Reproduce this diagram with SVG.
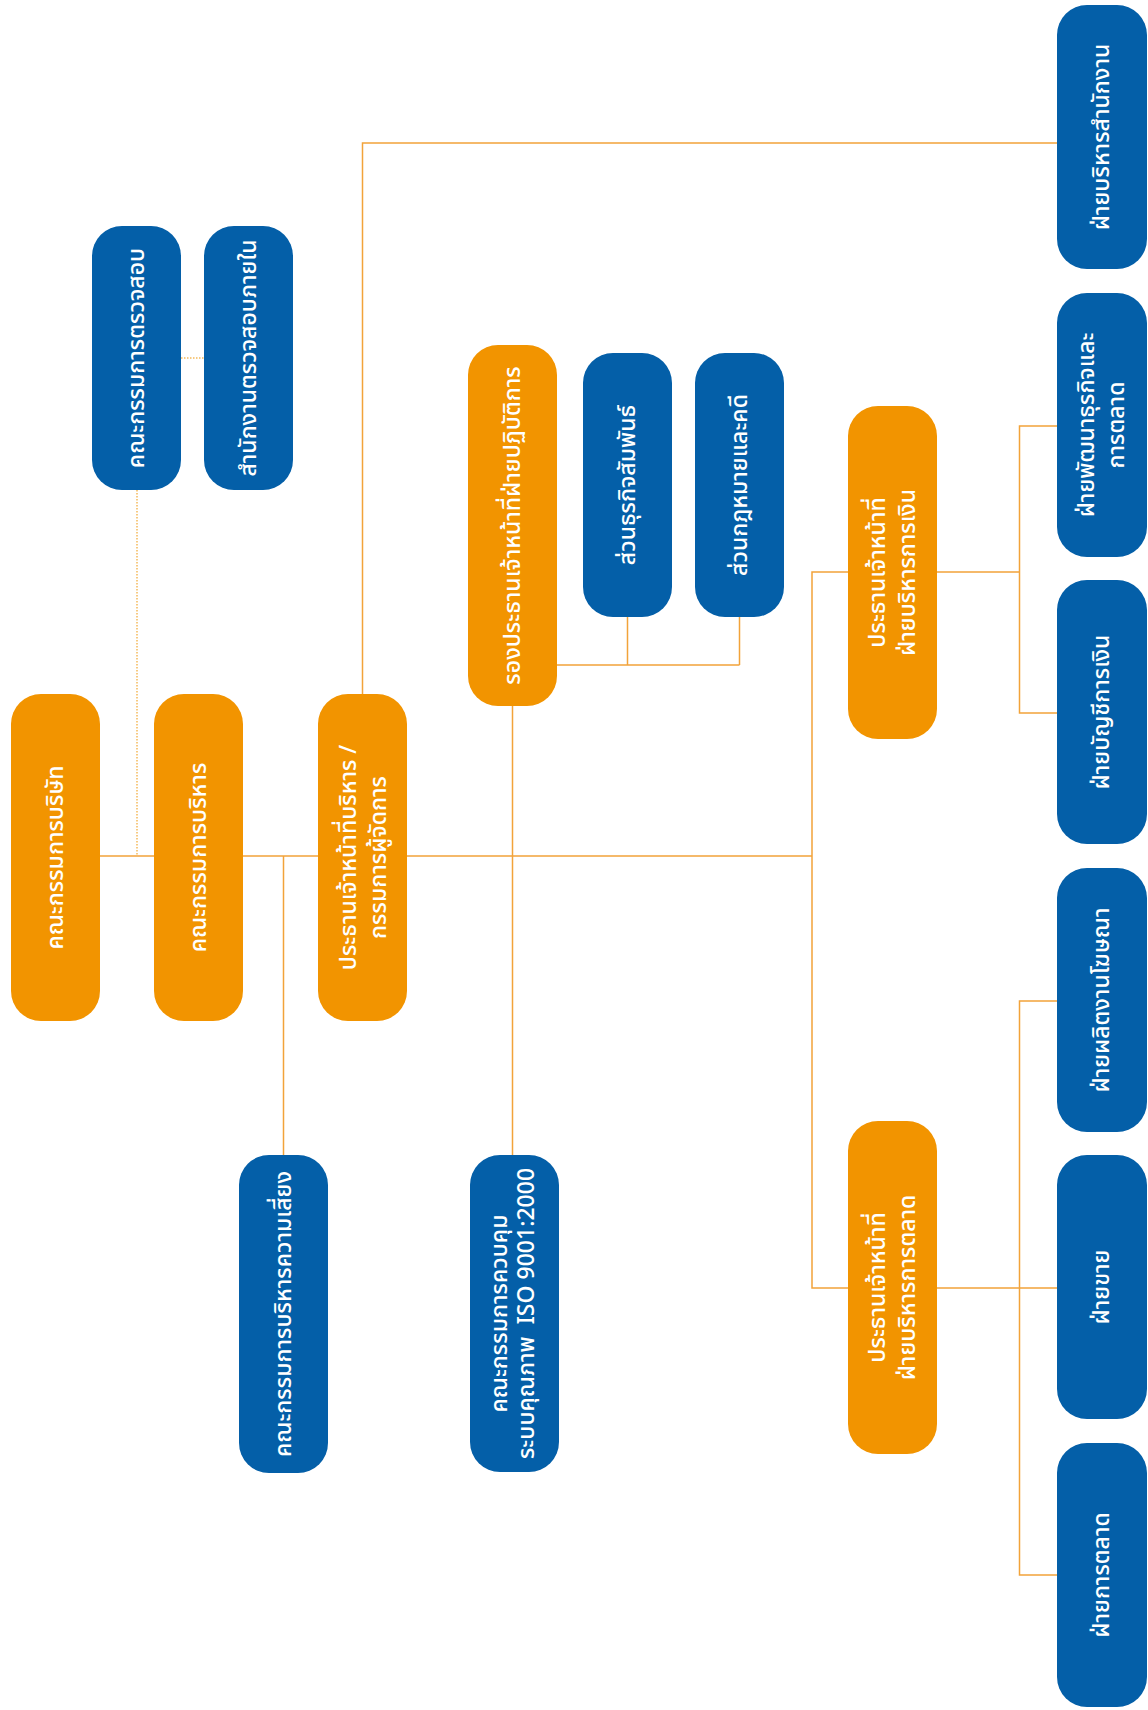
<svg xmlns="http://www.w3.org/2000/svg" width="1148" height="1710" viewBox="0 0 1148 1710">
<style>
.bg{fill:#ffffff}
.b{fill:#045FA8}
.o{fill:#F29400}
.t{fill:#ffffff;font-family:"Noto Sans Thai","Noto Sans","DejaVu Sans",sans-serif;font-size:23px;font-weight:500;text-anchor:middle}
.c{fill:none;stroke:#F2A33A;stroke-width:1.5}
.d{fill:none;stroke:#F5B95A;stroke-width:1.5;stroke-dasharray:1.5 1.5}
</style>
<rect class="bg" x="0" y="0" width="1148" height="1710"/>
<g id="connectors">
<path class="c" d="M362.5 694V143H1057"/>
<path class="c" d="M100 856H154M243 856H318M407 856H812"/>
<path class="c" d="M283.5 856V1155"/>
<path class="c" d="M512.5 706V1155"/>
<path class="c" d="M557 665H739.5M627.5 617V665M739.5 617V665"/>
<path class="c" d="M848 572H812V1288H848"/>
<path class="c" d="M937 572H1019.5M1057 426H1019.5V713H1057"/>
<path class="c" d="M937 1288H1057M1057 1001H1019.5V1575H1057"/>
<path class="d" d="M137 490V856"/>
<path class="d" d="M181 358H204"/>
</g>
<g id="n-board">
<rect class="o" x="11" y="694" width="89" height="327" rx="30"/>
<text class="t" transform="translate(55.5 857.5) rotate(-90)" y="7">คณะกรรมการบริษัท</text>
</g>
<g id="n-exec">
<rect class="o" x="154" y="694" width="89" height="327" rx="30"/>
<text class="t" transform="translate(198.5 857.5) rotate(-90)" y="7">คณะกรรมการบริหาร</text>
</g>
<g id="n-ceo">
<rect class="o" x="318" y="694" width="89" height="327" rx="30"/>
<text class="t" transform="translate(362.5 857.5) rotate(-90)"><tspan x="0" y="-7">ประธานเจ้าหน้าที่บริหาร /</tspan><tspan x="0" y="23">กรรมการผู้จัดการ</tspan></text>
</g>
<g id="n-audit">
<rect class="b" x="92" y="226" width="89" height="264" rx="30"/>
<text class="t" transform="translate(136.5 358) rotate(-90)" y="7">คณะกรรมการตรวจสอบ</text>
</g>
<g id="n-internal-audit">
<rect class="b" x="204" y="226" width="89" height="264" rx="30"/>
<text class="t" transform="translate(248.5 358) rotate(-90)" y="7">สำนักงานตรวจสอบภายใน</text>
</g>
<g id="n-coo">
<rect class="o" x="468" y="345" width="89" height="361" rx="30"/>
<text class="t" transform="translate(512.5 525.5) rotate(-90)" y="7">รองประธานเจ้าหน้าที่ฝ่ายปฏิบัติการ</text>
</g>
<g id="n-bizrel">
<rect class="b" x="583" y="353" width="89" height="264" rx="30"/>
<text class="t" transform="translate(627.5 485) rotate(-90)" y="7">ส่วนธุรกิจสัมพันธ์</text>
</g>
<g id="n-legal">
<rect class="b" x="695" y="353" width="89" height="264" rx="30"/>
<text class="t" transform="translate(739.5 485) rotate(-90)" y="7">ส่วนกฎหมายและคดี</text>
</g>
<g id="n-cfo">
<rect class="o" x="848" y="406" width="89" height="333" rx="30"/>
<text class="t" transform="translate(892.5 572.5) rotate(-90)"><tspan x="0" y="-8">ประธานเจ้าหน้าที่</tspan><tspan x="0" y="22">ฝ่ายบริหารการเงิน</tspan></text>
</g>
<g id="n-cmo">
<rect class="o" x="848" y="1121" width="89" height="333" rx="30"/>
<text class="t" transform="translate(892.5 1287.5) rotate(-90)"><tspan x="0" y="-8">ประธานเจ้าหน้าที่</tspan><tspan x="0" y="22">ฝ่ายบริหารการตลาด</tspan></text>
</g>
<g id="n-risk">
<rect class="b" x="239" y="1155" width="89" height="318" rx="30"/>
<text class="t" transform="translate(283.5 1314) rotate(-90)" y="7">คณะกรรมการบริหารความเสี่ยง</text>
</g>
<g id="n-iso">
<rect class="b" x="470" y="1155" width="89" height="317" rx="30"/>
<text class="t" transform="translate(514.5 1313.5) rotate(-90)"><tspan x="0" y="-8">คณะกรรมการควบคุม</tspan><tspan x="0" y="19" xml:space="preserve">ระบบคุณภาพ  ISO 9001:2000</tspan></text>
</g>
<g id="n-office">
<rect class="b" x="1057" y="5" width="90" height="264" rx="30"/>
<text class="t" transform="translate(1102 137) rotate(-90)" y="7">ฝ่ายบริหารสำนักงาน</text>
</g>
<g id="n-bizdev">
<rect class="b" x="1057" y="293" width="90" height="264" rx="30"/>
<text class="t" transform="translate(1102 425) rotate(-90)"><tspan x="0" y="-8">ฝ่ายพัฒนาธุรกิจและ</tspan><tspan x="0" y="22">การตลาด</tspan></text>
</g>
<g id="n-accounting">
<rect class="b" x="1057" y="580" width="90" height="264" rx="30"/>
<text class="t" transform="translate(1102 712) rotate(-90)" y="7">ฝ่ายบัญชีการเงิน</text>
</g>
<g id="n-advertising">
<rect class="b" x="1057" y="868" width="90" height="264" rx="30"/>
<text class="t" transform="translate(1102 1000) rotate(-90)" y="7">ฝ่ายผลิตงานโฆษณา</text>
</g>
<g id="n-sales">
<rect class="b" x="1057" y="1155" width="90" height="264" rx="30"/>
<text class="t" transform="translate(1102 1287) rotate(-90)" y="7">ฝ่ายขาย</text>
</g>
<g id="n-marketing">
<rect class="b" x="1057" y="1443" width="90" height="264" rx="30"/>
<text class="t" transform="translate(1102 1575) rotate(-90)" y="7">ฝ่ายการตลาด</text>
</g>
</svg>
